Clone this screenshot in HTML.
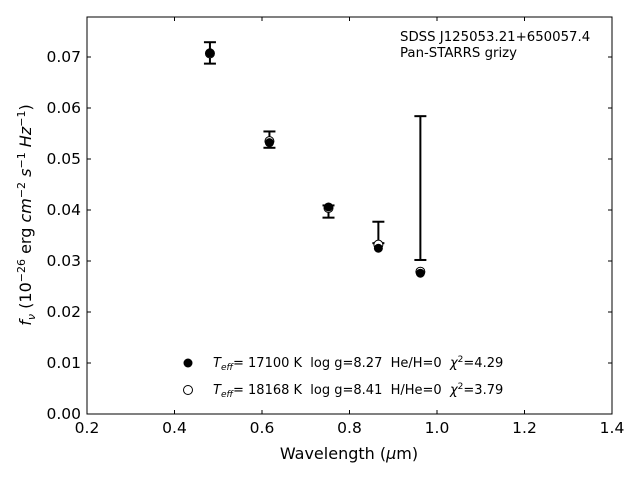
<!DOCTYPE html>
<html><head><meta charset="utf-8"><style>
body{margin:0;background:#fff;}
svg{font-family:"DejaVu Sans","Liberation Sans",sans-serif;}
svg text{white-space:pre;}
</style></head><body>
<svg id="chart" width="640" height="480" xmlns="http://www.w3.org/2000/svg" xml:space="preserve">
<rect x="87" y="17" width="525" height="397" fill="none" stroke="#000" stroke-width="1"/>
<g id="xticks"></g>
<g id="yticks"></g>
<g id="marks"></g>
<text x="349" y="459" font-size="16" text-anchor="middle">Wavelength (<tspan font-style="italic">μ</tspan>m)</text>
<text transform="translate(31,215) rotate(-90)" font-size="16" text-anchor="middle"><tspan font-style="italic">f</tspan><tspan font-style="italic" font-size="11" dy="4">ν</tspan><tspan dy="-4"> (10</tspan><tspan font-size="11" dy="-6">−26</tspan><tspan dy="6"> erg </tspan><tspan font-style="italic">cm</tspan><tspan font-size="11" dy="-6">−2</tspan><tspan dy="6"> </tspan><tspan font-style="italic">s</tspan><tspan font-size="11" dy="-6">−1</tspan><tspan dy="6"> </tspan><tspan font-style="italic">Hz</tspan><tspan font-size="11" dy="-6">−1</tspan><tspan dy="6">)</tspan></text>
<text x="400" y="41" font-size="13.3">SDSS J125053.21+650057.4</text>
<text x="400" y="57" font-size="13.3">Pan-STARRS grizy</text>
<g>
<circle cx="188" cy="363" r="4.5" fill="#000"/>
<text x="213" y="367" font-size="13"><tspan font-style="italic">T</tspan><tspan font-style="italic" font-size="9" dy="3">eff</tspan><tspan dy="-3">= 17100 K  log g=8.27  He/H=0  </tspan><tspan font-style="italic">χ</tspan><tspan font-size="9" dy="-5">2</tspan><tspan dy="5">=4.29</tspan></text>
<circle cx="188" cy="390" r="4.5" fill="#fff" stroke="#000" stroke-width="1"/>
<text x="213" y="394" font-size="13"><tspan font-style="italic">T</tspan><tspan font-style="italic" font-size="9" dy="3">eff</tspan><tspan dy="-3">= 18168 K  log g=8.41  H/He=0  </tspan><tspan font-style="italic">χ</tspan><tspan font-size="9" dy="-5">2</tspan><tspan dy="5">=3.79</tspan></text>
</g>
</svg>
<script>
const wavelengths=[0.481,0.617,0.752,0.866,0.962];
const obsFlux=[0.0708,0.0538,0.0397,0.0356,0.0443];
const obsErr=[0.0021,0.0016,0.0012,0.0021,0.0141];
const modelHe=[0.0708,0.0532,0.0406,0.0325,0.0276];
const modelH=[0.0707,0.0535,0.0404,0.0332,0.0279];
const xTicks=[0.2,0.4,0.6,0.8,1.0,1.2,1.4];
const yTicks=[0,0.01,0.02,0.03,0.04,0.05,0.06,0.07];
const NS='http://www.w3.org/2000/svg';
const X=v=>87+(v-0.2)/1.2*525;
const Y=v=>414-v*5100;
function mk(tag,attrs,parent){const e=document.createElementNS(NS,tag);for(const k in attrs)e.setAttribute(k,attrs[k]);parent.appendChild(e);return e;}
const xg=document.getElementById('xticks'),yg=document.getElementById('yticks'),mg=document.getElementById('marks');
xTicks.forEach(t=>{const x=X(t);
const l=mk('line',{x1:x,x2:x,y1:414,y2:410,stroke:'#000'},xg);


const l2=mk('line',{x1:x,x2:x,y1:17,y2:21,stroke:'#000'},xg);


const tx=mk('text',{x:x,y:433,'font-size':15.5,'text-anchor':'middle'},xg);tx.textContent=t.toFixed(1);

});
yTicks.forEach(t=>{const y=Y(t);
const l=mk('line',{x1:87,x2:91,y1:y,y2:y,stroke:'#000'},yg);


const l2=mk('line',{x1:608,x2:612,y1:y,y2:y,stroke:'#000'},yg);


const tx=mk('text',{x:81,y:y+5,'font-size':15.5,'text-anchor':'end'},yg);tx.textContent=t.toFixed(2);

});
wavelengths.forEach((w,i)=>{const x=X(w);
const g=mk('g',{},mg);


const y1=Y(obsFlux[i]+obsErr[i]),y2=Y(obsFlux[i]-obsErr[i]);
mk('line',{x1:x,x2:x,y1:y1,y2:y2,stroke:'#000','stroke-width':2},g);
mk('line',{x1:x-6,x2:x+6,y1:y1,y2:y1,stroke:'#000','stroke-width':2},g);
mk('line',{x1:x-6,x2:x+6,y1:y2,y2:y2,stroke:'#000','stroke-width':2},g);
const o=mk('circle',{cx:x,cy:Y(modelH[i]),r:4.5,fill:'#fff',stroke:'#000'},mg);


const f=mk('circle',{cx:x,cy:Y(modelHe[i]),r:4.5,fill:'#000'},mg);

});
</script>
</body></html>
